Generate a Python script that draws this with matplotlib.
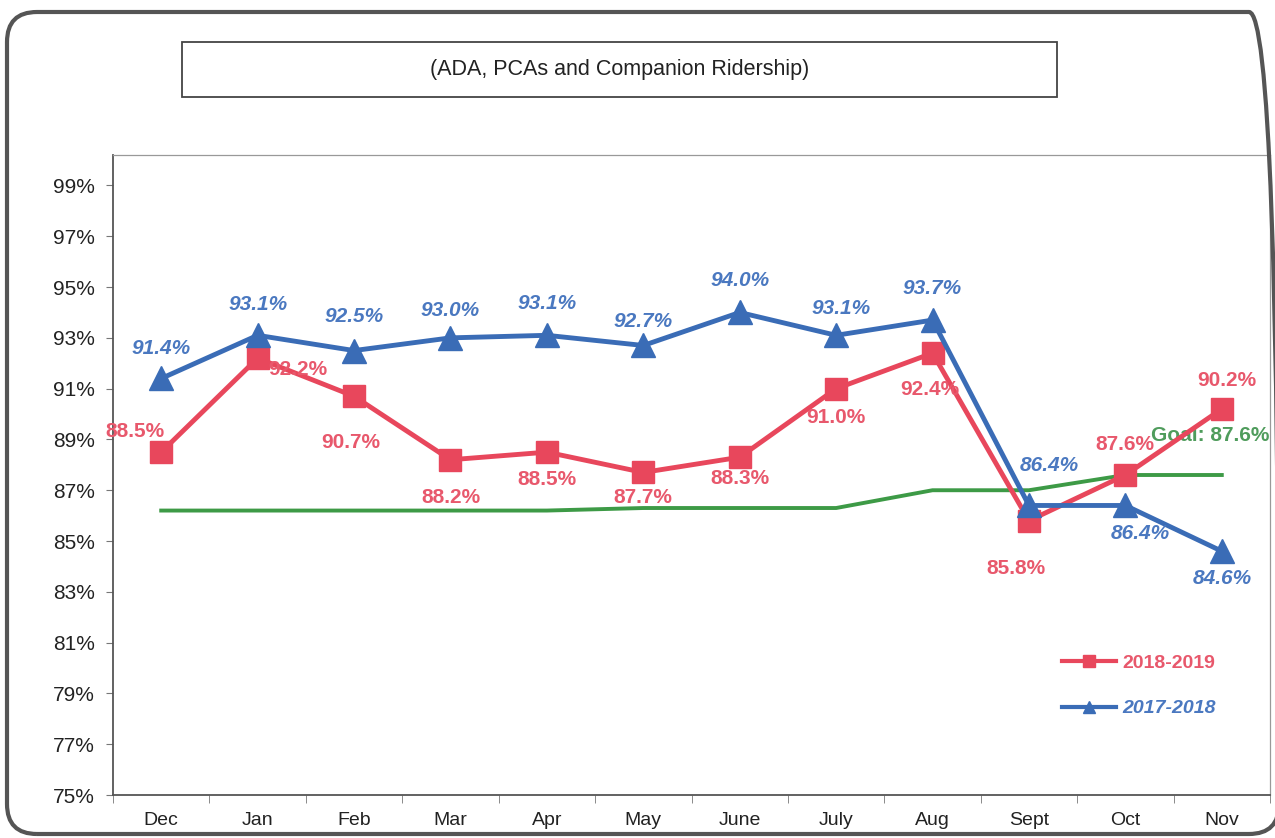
import matplotlib
matplotlib.use("Agg")
import matplotlib.pyplot as plt
from matplotlib.lines import Line2D
from matplotlib.patches import FancyBboxPatch, Rectangle
from matplotlib.transforms import IdentityTransform

plt.rcParams['font.family'] = ['Liberation Sans', 'DejaVu Sans']

months = ["Dec", "Jan", "Feb", "Mar", "Apr", "May", "June", "July", "Aug", "Sept", "Oct", "Nov"]
fy1819 = [88.5, 92.2, 90.7, 88.2, 88.5, 87.7, 88.3, 91.0, 92.4, 85.8, 87.6, 90.2]
fy1718 = [91.4, 93.1, 92.5, 93.0, 93.1, 92.7, 94.0, 93.1, 93.7, 86.4, 86.4, 84.6]
goal = [86.2, 86.2, 86.2, 86.2, 86.2, 86.3, 86.3, 86.3, 87.0, 87.0, 87.6, 87.6]
yticks = list(range(75, 100, 2))

# label offsets in pixels (dx, dy)
red_off = [(-26, 21), (40, -11), (-3, -46), (0, -38), (0, -27), (0, -25),
           (0, -21), (0, -29), (-3, -36), (-13, -48), (0, 31), (5, 28)]
blue_off = [(0, 30), (0, 31), (0, 34), (0, 27), (0, 32), (0, 24),
            (0, 32), (5, 27), (0, 32), (20, 40), (15, -28), (0, -27)]

RED = '#e8475c'
RED_T = '#e8586c'
BLUE = '#3a6cb6'
BLUE_T = '#4a78c0'
GREEN = '#3d9a46'

W, H = 1275, 838
fig = plt.figure(figsize=(W / 100, H / 100), dpi=100)
ax = fig.add_axes([113 / W, 43 / H, (1270 - 113) / W, (795 - 155) / H])

x = list(range(len(months)))
ax.plot(x, goal, color=GREEN, lw=2.8, zorder=2)
ax.plot(x, fy1819, color=RED, lw=3.5, marker='s', ms=16, zorder=3)
ax.plot(x, fy1718, color=BLUE, lw=3.5, marker='^', ms=17, zorder=4)

for i, v in enumerate(fy1819):
    ax.annotate(f"{v:.1f}%", (i, v), xytext=red_off[i], textcoords='offset pixels',
                ha='center', va='center', color=RED_T, fontsize=15,
                fontweight='bold', zorder=5)
for i, v in enumerate(fy1718):
    ax.annotate(f"{v:.1f}%", (i, v), xytext=blue_off[i], textcoords='offset pixels',
                ha='center', va='center', color=BLUE_T, fontsize=15,
                fontweight='bold', fontstyle='italic', zorder=5)
ax.annotate(f"Goal: {goal[-1]:.1f}%", (x[-1], goal[-1]), xytext=(-12, 40),
            textcoords='offset pixels', ha='center', va='center',
            color='#4f9c5c', fontsize=15, fontweight='bold', zorder=1)

ax.set_xlim(-0.5, 11.5)
ax.set_ylim(75, 100.2)
ax.set_yticks(yticks)
ax.set_yticklabels([f"{t}%" for t in yticks])
ax.set_xticks(x)
ax.set_xticklabels(months)
ax.set_xticks([i + 0.5 for i in range(-1, 12)], minor=True)
ax.tick_params(axis='x', which='major', length=0, labelsize=14, pad=12, colors='#222')
ax.tick_params(axis='x', which='minor', length=6, direction='out', color='#777')
ax.tick_params(axis='y', length=5, direction='out', labelsize=15, pad=8,
               colors='#777', labelcolor='#222')
for s in ['left', 'bottom']:
    ax.spines[s].set_color('#555')
    ax.spines[s].set_linewidth(1.3)
for s in ['top', 'right']:
    ax.spines[s].set_color('#999')
    ax.spines[s].set_linewidth(0.9)

handles = [Line2D([], [], color=RED, lw=3, marker='s', ms=9),
           Line2D([], [], color=BLUE, lw=3, marker='^', ms=9)]
leg = ax.legend(handles, ["2018-2019", "2017-2018"], loc='upper left',
                bbox_to_anchor=(1062 / W, (H - 654) / H), bbox_transform=fig.transFigure,
                frameon=False, numpoints=1, handlelength=2.8, handletextpad=0.3,
                labelspacing=1.45, borderpad=0, borderaxespad=0,
                prop={'weight': 'bold', 'size': 14}, labelcolor=[RED_T, BLUE_T])
leg.get_texts()[1].set_fontstyle('italic')

# title box
fig.add_artist(Rectangle((182, H - 97), 1057 - 182, 55, transform=IdentityTransform(),
                         fill=False, edgecolor='#444', lw=1.3))
fig.text((182 + 1057) / 2 / W, (H - 70) / H, "(ADA, PCAs and Companion Ridership)",
         ha='center', va='center', fontsize=15.5, color='#222')

# outer rounded frame
fig.add_artist(FancyBboxPatch((7, 4), 1272, H - 16, boxstyle="round,pad=0,rounding_size=30",
                              transform=IdentityTransform(), fill=False,
                              edgecolor='#555', lw=3))

fig.savefig("out.png", dpi=100)
